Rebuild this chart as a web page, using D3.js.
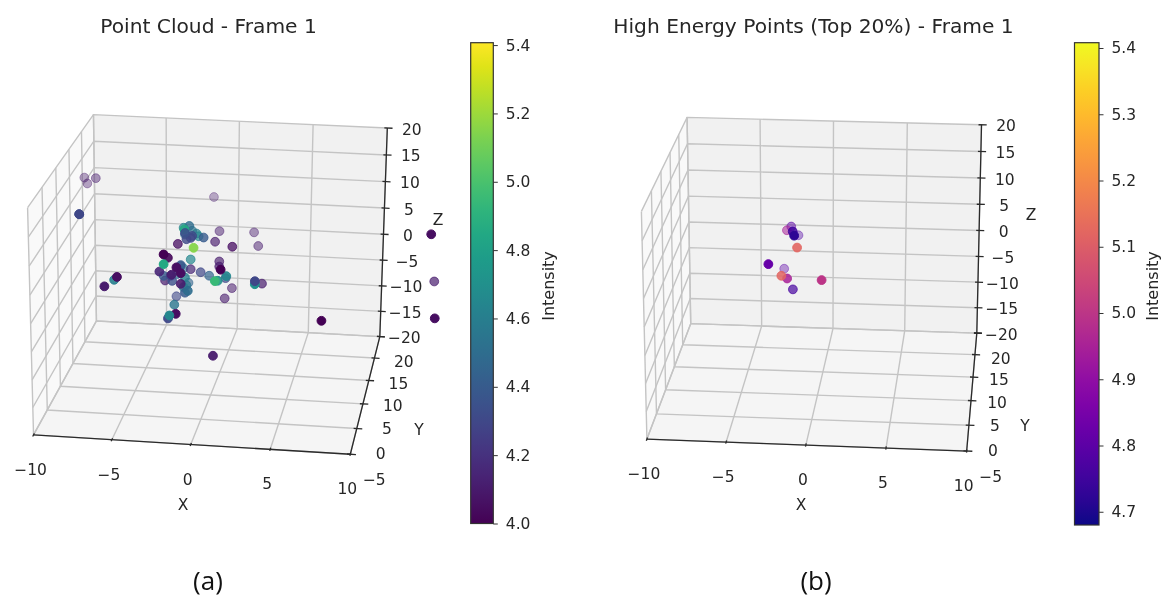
<!DOCTYPE html>
<html>
<head>
<meta charset="utf-8">
<script src="https://cdn.jsdelivr.net/npm/d3@7"></script>
<style>
  html, body { margin: 0; background: #fff; }
  svg { display: block; filter: blur(0.5px); }
  text { font-family: "DejaVu Sans"; fill: #262626; }
</style>
</head>
<body>
<svg id="chart" width="1162" height="599"></svg>
<script>
// axis ticks
const xTicks = [-10, -5, 0, 5, 10];
const yTicks = [-5, 0, 5, 10, 15, 20];
const zTicks = [-20, -15, -10, -5, 0, 5, 10, 15, 20];

// panel (a): read against the back wall grid, depth 0 = far (faded), 1 = near
const cloudX = [-10.7, -10.5, -9.9, -11.1, -1.7, -1.3, 1.1, 1.4, -0.4, -1.6, -4.2, -3.1, -3.3,
  -3.8, -3.4, -3.75, -3.7, -3.6, -3.2, -2.9, -2.75, -2.4, -3.3,
  -5.2, -4.9, -5.2, -5.5, -5.2, -5.1, -4.65, -4.3, -4, -4, -4.6, -4, -3.7, -3.45, -3.8, -3.5, -3.7,
  -3.3, -2.6, -2, -1.3, -1.3, -1.2, -0.8, -0.85, -1.6, -1.4, -0.4, -0.9, 1.2, 1.2, 1.7,
  -4.3, -4.45, -4.35, -4.8, -4.9, -8.5, -8.7, -9.4, 5.9, -1.7, 13.25, 13.6, 13.75,
  -11.1, -3.7, -3.2, -4, -3.8, -4.7, -4.25, -3.6];
const cloudZ = [8, 6.9, 8, 0.9, 5.5, -1, -0.9, -3.5, -3.9, -3.1, -3.9, -4.5, -6.8,
  -0.7, -0.3, -1, -1.7, -2.9, -2.2, -1.7, -2.2, -2.4, -2.6,
  -6.1, -6.7, -8, -9.5, -10.3, -11.2, -10, -8.5, -8, -9.6, -11.2, -11.7, -10.4, -11.4, -12.3, -13, -13.4,
  -8.7, -9.2, -9.8, -6.9, -7.9, -8.5, -9.7, -10.1, -10.8, -10.7, -12, -14.1, -11, -10.4, -10.8,
  -14.2, -15.9, -17.7, -18.1, -18.7, -11, -11.6, -13, -17.5, -25.7, 0.45, -8.6, -15.8,
  0.9, -2, -1.2, -8.2, -8.6, -10.2, -9.8, -11.9];
const cloudIntensity = [4.1, 4.1, 4.1, 4.35, 4.1, 4.1, 4.1, 4.1, 4.05, 4.1, 4.05, 5.15, 4.65,
  4.6, 4.5, 4.85, 4.35, 4.3, 4.3, 4.6, 4.65, 4.4, 4.3,
  4, 4.02, 4.85, 4.15, 4.4, 4.1, 4.1, 4.05, 4.4, 4.05, 4.35, 4.1, 4.6, 4.45, 4.6, 4.5, 4.4,
  4.15, 4.3, 4.45, 4.1, 4.1, 4, 4.65, 4.3, 4.95, 4.7, 4.1, 4.1, 4.7, 4.3, 4.1,
  4.3, 4.55, 4.05, 4.65, 4.3, 4.05, 4.6, 4.1, 4, 4.1, 4.05, 4.1, 4.05,
  4.3, 4.45, 4.55, 4.35, 4.6, 4.3, 4.5, 4.55];
const cloudDepth = [0.14, 0.14, 0.21, 1, 0.07, 0.29, 0.21, 0.29, 0.64, 0.5, 0.64, 0.93, 0.57,
  0.57, 0.71, 0.86, 0.86, 0.71, 0.71, 0.57, 0.57, 0.71, 0.71,
  1, 0.86, 1, 0.86, 0.71, 0.57, 0.86, 1, 0.71, 1, 0.71, 0.86, 0.71, 0.43, 0.71, 0.86, 0.79,
  0.57, 0.57, 0.57, 0.5, 0.57, 1, 0.86, 0.57, 1, 0.86, 0.36, 0.43, 1, 1, 0.57,
  0.43, 0.71, 1, 1, 0.93, 1, 0.86, 1, 1, 0.93, 1, 0.57, 1,
  1, 0.57, 0.57, 0.57, 0.43, 0.71, 0.57, 0.57];

// panel (b)
const highX = [-2.9, -3.2, -2.8, -2.7, -2.4, -2.5, -4.5, -3.4, -3.6, -3.2, -0.8, -2.8];
const highZ = [-0.3, -1.05, -1.25, -2.05, -1.95, -4.35, -7.75, -8.55, -9.95, -10.45, -10.55, -12.55];
const highIntensity = [4.8, 4.95, 4.75, 4.72, 4.78, 5.12, 4.82, 4.8, 5.12, 4.95, 5.0, 4.76];
const highDepth = [0.29, 0.36, 0.8, 1, 0.14, 0.86, 1, 0.14, 0.8, 0.79, 1, 0.57];

const cloudBarTicks = [4.0, 4.2, 4.4, 4.6, 4.8, 5.0, 5.2, 5.4];
const highBarTicks = [4.7, 4.8, 4.9, 5.0, 5.1, 5.2, 5.3, 5.4];

const svg = d3.select("#chart");
const defs = svg.append("defs");

const ux = d3.scaleLinear().domain([-10, 10]).range([0, 1]);
const uy = d3.scaleLinear().domain([-5, 20]).range([0, 1]);
const uz = d3.scaleLinear().domain([-20, 20]).range([0, 1]);
const fade = d3.scaleLinear().domain([0, 1]).range([0.3, 1]);

// fit a camera matrix to the eight box corners (x, y, z in 0..1 -> pixels)
function fitCamera(corners) {
  const rows = [], rhs = [];
  for (const [u, v, w, px, py] of corners) {
    rows.push([u, v, w, 1, 0, 0, 0, 0, -px * u, -px * v, -px * w]); rhs.push(px);
    rows.push([0, 0, 0, 0, u, v, w, 1, -py * u, -py * v, -py * w]); rhs.push(py);
  }
  const n = 11;
  const m = d3.range(n).map(i => d3.range(n).map(j => d3.sum(rows, r => r[i] * r[j]))
    .concat(d3.sum(rows, (r, k) => r[i] * rhs[k])));
  for (let i = 0; i < n; i++) {
    let p = i;
    for (let k = i + 1; k < n; k++) if (Math.abs(m[k][i]) > Math.abs(m[p][i])) p = k;
    [m[i], m[p]] = [m[p], m[i]];
    for (let k = 0; k < n; k++) {
      if (k === i) continue;
      const f = m[k][i] / m[i][i];
      for (let j = i; j <= n; j++) m[k][j] -= f * m[i][j];
    }
  }
  const c = m.map((r, i) => r[n] / r[i]);
  return (x, y, z) => {
    const u = ux(x), v = uy(y), w = uz(z);
    const h = c[8] * u + c[9] * v + c[10] * w + 1;
    return [(c[0] * u + c[1] * v + c[2] * w + c[3]) / h, (c[4] * u + c[5] * v + c[6] * w + c[7]) / h];
  };
}

function drawPanel(o) {
  const g = svg.append("g");
  const P = fitCamera(o.corners);
  const path = pts => "M" + pts.map(p => P(...p).join(",")).join("L");

  // panes
  g.append("path").attr("d", path([[-10, -5, -20], [-10, 20, -20], [-10, 20, 20], [-10, -5, 20]]) + "Z").attr("fill", "#f9f9f9");
  g.append("path").attr("d", path([[-10, 20, -20], [10, 20, -20], [10, 20, 20], [-10, 20, 20]]) + "Z").attr("fill", "#f1f1f1");
  g.append("path").attr("d", path([[-10, -5, -20], [10, -5, -20], [10, 20, -20], [-10, 20, -20]]) + "Z").attr("fill", "#f5f5f5");

  // grid
  const grid = g.append("g").attr("fill", "none").attr("stroke", "#c4c4c4").attr("stroke-width", 1.4);
  xTicks.forEach(x => grid.append("path").attr("d", path([[x, -5, -20], [x, 20, -20], [x, 20, 20]])));
  yTicks.forEach(y => grid.append("path").attr("d", path([[10, y, -20], [-10, y, -20], [-10, y, 20]])));
  zTicks.forEach(z => grid.append("path").attr("d", path([[-10, -5, z], [-10, 20, z], [10, 20, z]])));

  // axis lines and ticks
  const axes = g.append("g").attr("fill", "none").attr("stroke", "#2b2b2b").attr("stroke-width", 1.3);
  axes.append("path").attr("d", path([[-10, -5, -20], [10, -5, -20], [10, 20, -20], [10, 20, 20]]));
  xTicks.forEach(x => axes.append("path").attr("d", path([[x, -5.3, -20], [x, -4.7, -20]])));
  yTicks.forEach(y => axes.append("path").attr("d", path([[9.8, y, -20], [10.35, y, -20]])));
  zTicks.forEach(z => axes.append("path").attr("d", path([[9.8, 20, z], [10.35, 20, z]])));

  // tick labels
  const label = (t, p, dx, dy) => g.append("text")
    .attr("x", p[0] + dx).attr("y", p[1] + dy)
    .attr("text-anchor", "middle").attr("dominant-baseline", "central")
    .attr("font-size", 15.5).text(String(t).replace("-", "\u2212"));
  xTicks.forEach(x => label(x, P(x, -5, -20), -3, 35));
  yTicks.forEach(y => label(y, P(10, y, -20), 24, 25.5));
  zTicks.forEach(z => label(z, P(10, 20, z), 24.5, 1.5));

  // axis titles
  const title = (t, x, y) => g.append("text").attr("x", x).attr("y", y)
    .attr("text-anchor", "middle").attr("dominant-baseline", "central")
    .attr("font-size", 15.5).text(t);
  title("X", o.xLabel[0], o.xLabel[1]);
  title("Y", o.yLabel[0], o.yLabel[1]);
  title("Z", o.zLabel[0], o.zLabel[1]);

  g.append("text").attr("x", o.titleX).attr("y", 26)
    .attr("text-anchor", "middle").attr("dominant-baseline", "central")
    .attr("font-size", 20.2).text(o.title);

  // points, far ones first
  const color = d3.scaleSequential(o.cmap).domain(o.barDomain);
  const pts = d3.sort(d3.range(o.xs.length), i => o.depth[i]);
  g.append("g").selectAll("circle")
    .data(pts)
    .join("circle")
    .attr("cx", i => P(o.xs[i], 20, o.zs[i])[0])
    .attr("cy", i => P(o.xs[i], 20, o.zs[i])[1])
    .attr("r", 4.4)
    .attr("fill", i => color(o.vals[i]))
    .attr("stroke", i => color(o.vals[i]))
    .attr("fill-opacity", i => fade(o.depth[i]))
    .attr("stroke-opacity", i => fade(o.depth[i]));

  // colorbar
  const bar = d3.scaleLinear().domain(o.barDomain).range([o.barY1, o.barY0]);
  const id = "grad" + o.caption[1];
  const grad = defs.append("linearGradient").attr("id", id)
    .attr("x1", 0).attr("y1", 1).attr("x2", 0).attr("y2", 0);
  d3.range(0, 1.001, 0.05).forEach(t => grad.append("stop")
    .attr("offset", t).attr("stop-color", o.cmap(t)));
  g.append("rect").attr("x", o.barX).attr("y", o.barY0)
    .attr("width", o.barW).attr("height", o.barY1 - o.barY0)
    .attr("fill", `url(#${id})`).attr("stroke", "#333").attr("stroke-width", 1.2);
  const barAxis = g.append("g").attr("transform", `translate(${o.barX + o.barW},0)`)
    .call(d3.axisRight(bar).tickValues(o.barTicks).tickFormat(d3.format(".1f")).tickSize(4.5).tickPadding(8));
  barAxis.select(".domain").remove();
  barAxis.selectAll("line").attr("stroke", "#333");
  barAxis.selectAll("text").attr("font-size", 15.5).attr("font-family", "DejaVu Sans");
  g.append("text")
    .attr("transform", `translate(${o.barLabelX},286) rotate(-90)`)
    .attr("text-anchor", "middle").attr("dominant-baseline", "central")
    .attr("font-size", 16).text("Intensity");

  // caption
  g.append("text").attr("x", o.captionX).attr("y", 580)
    .attr("text-anchor", "middle").attr("dominant-baseline", "central")
    .style("font-family", "'Open Sans'").style("fill", "#111")
    .attr("font-size", 26).text(o.caption);
}

drawPanel({
  corners: [
    [0, 0, 0, 33, 435], [1, 0, 0, 350, 454], [0, 1, 0, 97, 320.7], [1, 1, 0, 380, 337],
    [0, 0, 1, 28, 208], [1, 0, 1, 358, 224], [0, 1, 1, 93, 114.5], [1, 1, 1, 387, 128]
  ],
  xs: cloudX, zs: cloudZ, vals: cloudIntensity, depth: cloudDepth,
  cmap: d3.interpolateViridis,
  barDomain: [4.0, 5.407], barTicks: cloudBarTicks,
  barX: 470.7, barW: 22.6, barY0: 42.7, barY1: 523.5, barLabelX: 548,
  title: "Point Cloud - Frame 1", titleX: 208.5,
  xLabel: [183, 505], yLabel: [419, 430], zLabel: [438, 220],
  caption: "(a)", captionX: 208
});

drawPanel({
  corners: [
    [0, 0, 0, 646.7, 439.3], [1, 0, 0, 966.7, 451], [0, 1, 0, 691, 323.3], [1, 1, 0, 976.7, 333.3],
    [0, 0, 1, 641.7, 211.7], [1, 0, 1, 971.5, 220.5], [0, 1, 1, 686.7, 117.3], [1, 1, 1, 981.7, 125]
  ],
  xs: highX, zs: highZ, vals: highIntensity, depth: highDepth,
  cmap: d3.interpolatePlasma,
  barDomain: [4.68, 5.408], barTicks: highBarTicks,
  barX: 1074.5, barW: 24.5, barY0: 42.7, barY1: 525, barLabelX: 1152.5,
  title: "High Energy Points (Top 20%) - Frame 1", titleX: 813.5,
  xLabel: [801, 505], yLabel: [1025, 426], zLabel: [1031, 215],
  caption: "(b)", captionX: 816
});
</script>
</body>
</html>
